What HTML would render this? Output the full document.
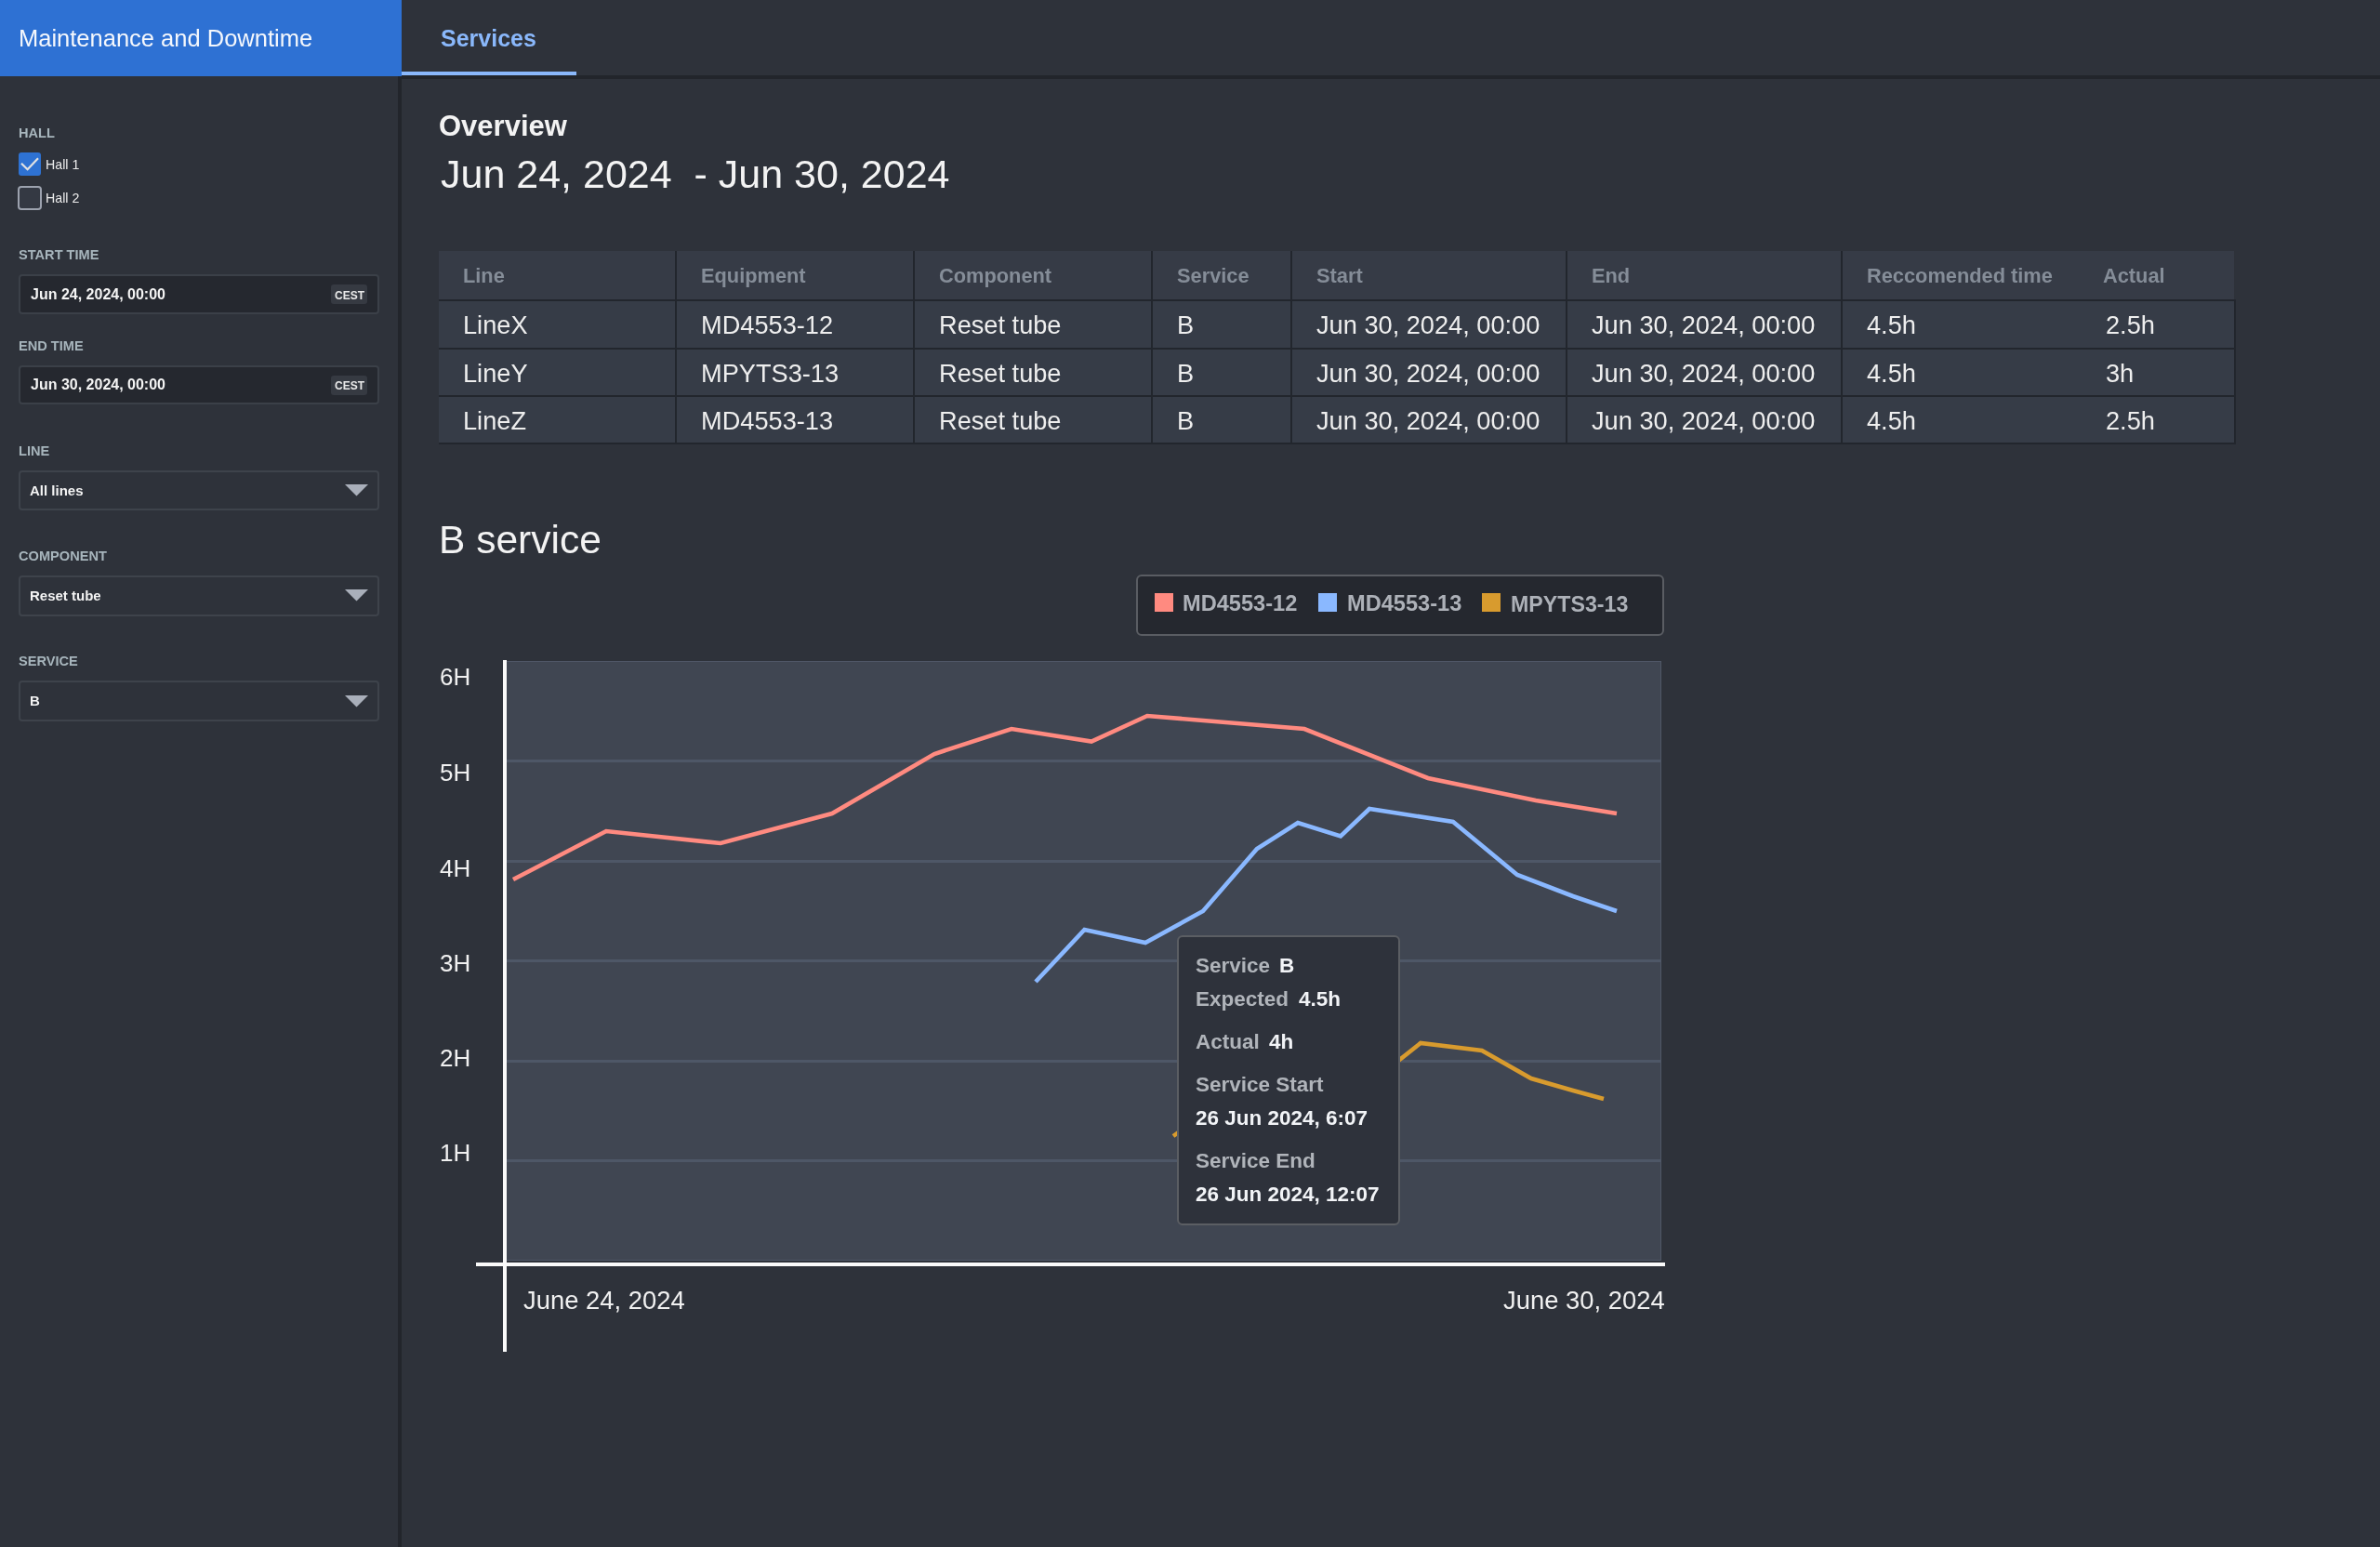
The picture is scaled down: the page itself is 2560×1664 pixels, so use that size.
<!DOCTYPE html>
<html><head><meta charset="utf-8"><title>Maintenance and Downtime</title>
<style>
html,body{margin:0;padding:0;}
body{width:2560px;height:1664px;background:#2e323a;position:relative;overflow:hidden;font-family:'Liberation Sans', sans-serif;}
.t{position:absolute;white-space:pre;line-height:1;will-change:transform;}
.b{position:absolute;}
</style></head><body>
<div class="b" style="left:0px;top:0px;width:432px;height:82px;background:#2e71d3"></div>
<div class="b" style="left:432px;top:81px;width:2128px;height:4px;background:#22252b"></div>
<div class="b" style="left:432px;top:77px;width:188px;height:4px;background:#8ab8fb"></div>
<div class="b" style="left:428px;top:82px;width:4px;height:1582px;background:#22252b"></div>
<div class="t" style="left:20.2px;top:28.8px;font-size:25.5px;font-weight:400;color:#f4f7fc;">Maintenance and Downtime</div>
<div class="t" style="left:474px;top:29.2px;font-size:25px;font-weight:700;color:#8ab8fb;">Services</div>
<div class="t" style="left:20px;top:136.0px;font-size:14.6px;font-weight:700;color:#a7b5bc;">HALL</div>
<div class="b" style="left:20px;top:164px;width:24px;height:25px;background:#2e72d3;border-radius:3px"></div>
<svg class="b" style="left:20px;top:164px" width="24" height="25"><path d="M3 11.7 L9.6 18.2 L21 6.3" fill="none" stroke="#e2e2e2" stroke-width="2.2"/></svg>
<div class="t" style="left:49.3px;top:169.7px;font-size:14.2px;font-weight:400;color:#ececec;">Hall 1</div>
<div class="b" style="left:19px;top:200px;width:26px;height:26px;background:#343943;border:2px solid #9ca2ae;border-radius:4px;box-sizing:border-box"></div>
<div class="t" style="left:49.3px;top:206.2px;font-size:14.2px;font-weight:400;color:#ececec;">Hall 2</div>
<div class="t" style="left:20px;top:267.2px;font-size:14.6px;font-weight:700;color:#a7b5bc;">START TIME</div>
<div class="b" style="left:20px;top:295px;width:388px;height:43px;background:#25282f;border:2px solid #3b4048;border-radius:4px;box-sizing:border-box"></div>
<div class="t" style="left:32.5px;top:308.6px;font-size:16px;font-weight:700;color:#f4f4f4;">Jun 24, 2024, 00:00</div>
<div class="b" style="left:356px;top:306px;width:39px;height:21px;background:#363a42;border-radius:3px"></div>
<div class="t" style="left:375.5px;transform:translateX(-50%);top:312.0px;font-size:12px;font-weight:700;color:#e8e8e8;">CEST</div>
<div class="t" style="left:20px;top:364.9px;font-size:14.6px;font-weight:700;color:#a7b5bc;">END TIME</div>
<div class="b" style="left:20px;top:393px;width:388px;height:42px;background:#25282f;border:2px solid #3b4048;border-radius:4px;box-sizing:border-box"></div>
<div class="t" style="left:32.5px;top:405.8px;font-size:16px;font-weight:700;color:#f4f4f4;">Jun 30, 2024, 00:00</div>
<div class="b" style="left:356px;top:404px;width:39px;height:21px;background:#363a42;border-radius:3px"></div>
<div class="t" style="left:375.5px;transform:translateX(-50%);top:409.2px;font-size:12px;font-weight:700;color:#e8e8e8;">CEST</div>
<div class="t" style="left:20px;top:477.9px;font-size:14.6px;font-weight:700;color:#a7b5bc;">LINE</div>
<div class="b" style="left:20px;top:505.5px;width:388px;height:43.5px;border:2px solid #3e434b;border-radius:4px;box-sizing:border-box"></div>
<div class="t" style="left:32px;top:519.8px;font-size:15px;font-weight:700;color:#f4f4f4;">All lines</div>
<svg class="b" style="left:371px;top:521.0px" width="25" height="13"><path d="M0 0 L25 0 L12.5 12.5 Z" fill="#a9afba"/></svg>
<div class="t" style="left:20px;top:591.1px;font-size:14.6px;font-weight:700;color:#a7b5bc;">COMPONENT</div>
<div class="b" style="left:20px;top:618.5px;width:388px;height:44.5px;border:2px solid #3e434b;border-radius:4px;box-sizing:border-box"></div>
<div class="t" style="left:32px;top:633.0px;font-size:15px;font-weight:700;color:#f4f4f4;">Reset tube</div>
<svg class="b" style="left:371px;top:634.2px" width="25" height="13"><path d="M0 0 L25 0 L12.5 12.5 Z" fill="#a9afba"/></svg>
<div class="t" style="left:20px;top:704.3px;font-size:14.6px;font-weight:700;color:#a7b5bc;">SERVICE</div>
<div class="b" style="left:20px;top:731.5px;width:388px;height:44.5px;border:2px solid #3e434b;border-radius:4px;box-sizing:border-box"></div>
<div class="t" style="left:32px;top:746.2px;font-size:15px;font-weight:700;color:#f4f4f4;">B</div>
<svg class="b" style="left:371px;top:747.5px" width="25" height="13"><path d="M0 0 L25 0 L12.5 12.5 Z" fill="#a9afba"/></svg>
<div class="t" style="left:472px;top:120.1px;font-size:31px;font-weight:700;color:#f3f3f3;">Overview</div>
<div class="t" style="left:474px;top:165.9px;font-size:43px;font-weight:400;color:#f3f3f3;">Jun 24, 2024  - Jun 30, 2024</div>
<div class="b" style="left:472px;top:270px;width:1931px;height:52px;background:#363b46"></div>
<div class="b" style="left:472px;top:322px;width:1933px;height:156px;background:#22262d"></div>
<div class="b" style="left:472px;top:324px;width:1931px;height:49.5px;background:#363c47"></div>
<div class="b" style="left:472px;top:375.5px;width:1931px;height:49.19999999999999px;background:#363c47"></div>
<div class="b" style="left:472px;top:426.7px;width:1931px;height:49.30000000000001px;background:#363c47"></div>
<div class="b" style="left:726px;top:270px;width:2px;height:208px;background:#22262d"></div>
<div class="b" style="left:982px;top:270px;width:2px;height:208px;background:#22262d"></div>
<div class="b" style="left:1238px;top:270px;width:2px;height:208px;background:#22262d"></div>
<div class="b" style="left:1388px;top:270px;width:2px;height:208px;background:#22262d"></div>
<div class="b" style="left:1684px;top:270px;width:2px;height:208px;background:#22262d"></div>
<div class="b" style="left:1980px;top:270px;width:2px;height:208px;background:#22262d"></div>
<div class="t" style="left:498px;top:285.8px;font-size:21.8px;font-weight:700;color:#858d98;">Line</div>
<div class="t" style="left:754px;top:285.8px;font-size:21.8px;font-weight:700;color:#858d98;">Equipment</div>
<div class="t" style="left:1010px;top:285.8px;font-size:21.8px;font-weight:700;color:#858d98;">Component</div>
<div class="t" style="left:1266px;top:285.8px;font-size:21.8px;font-weight:700;color:#858d98;">Service</div>
<div class="t" style="left:1416px;top:285.8px;font-size:21.8px;font-weight:700;color:#858d98;">Start</div>
<div class="t" style="left:1712px;top:285.8px;font-size:21.8px;font-weight:700;color:#858d98;">End</div>
<div class="t" style="left:2008px;top:285.8px;font-size:21.8px;font-weight:700;color:#858d98;">Reccomended time</div>
<div class="t" style="left:2261.5px;top:285.8px;font-size:21.8px;font-weight:700;color:#858d98;">Actual</div>
<div class="t" style="left:498px;top:336.3px;font-size:27.2px;font-weight:400;color:#eeeeee;">LineX</div>
<div class="t" style="left:754px;top:336.3px;font-size:27.2px;font-weight:400;color:#eeeeee;">MD4553-12</div>
<div class="t" style="left:1010px;top:336.3px;font-size:27.2px;font-weight:400;color:#eeeeee;">Reset tube</div>
<div class="t" style="left:1266px;top:336.3px;font-size:27.2px;font-weight:400;color:#eeeeee;">B</div>
<div class="t" style="left:1416px;top:336.3px;font-size:27.2px;font-weight:400;color:#eeeeee;">Jun 30, 2024, 00:00</div>
<div class="t" style="left:1712px;top:336.3px;font-size:27.2px;font-weight:400;color:#eeeeee;">Jun 30, 2024, 00:00</div>
<div class="t" style="left:2008px;top:336.3px;font-size:27.2px;font-weight:400;color:#eeeeee;">4.5h</div>
<div class="t" style="left:2264.5px;top:336.3px;font-size:27.2px;font-weight:400;color:#eeeeee;">2.5h</div>
<div class="t" style="left:498px;top:387.5px;font-size:27.2px;font-weight:400;color:#eeeeee;">LineY</div>
<div class="t" style="left:754px;top:387.5px;font-size:27.2px;font-weight:400;color:#eeeeee;">MPYTS3-13</div>
<div class="t" style="left:1010px;top:387.5px;font-size:27.2px;font-weight:400;color:#eeeeee;">Reset tube</div>
<div class="t" style="left:1266px;top:387.5px;font-size:27.2px;font-weight:400;color:#eeeeee;">B</div>
<div class="t" style="left:1416px;top:387.5px;font-size:27.2px;font-weight:400;color:#eeeeee;">Jun 30, 2024, 00:00</div>
<div class="t" style="left:1712px;top:387.5px;font-size:27.2px;font-weight:400;color:#eeeeee;">Jun 30, 2024, 00:00</div>
<div class="t" style="left:2008px;top:387.5px;font-size:27.2px;font-weight:400;color:#eeeeee;">4.5h</div>
<div class="t" style="left:2264.5px;top:387.5px;font-size:27.2px;font-weight:400;color:#eeeeee;">3h</div>
<div class="t" style="left:498px;top:438.9px;font-size:27.2px;font-weight:400;color:#eeeeee;">LineZ</div>
<div class="t" style="left:754px;top:438.9px;font-size:27.2px;font-weight:400;color:#eeeeee;">MD4553-13</div>
<div class="t" style="left:1010px;top:438.9px;font-size:27.2px;font-weight:400;color:#eeeeee;">Reset tube</div>
<div class="t" style="left:1266px;top:438.9px;font-size:27.2px;font-weight:400;color:#eeeeee;">B</div>
<div class="t" style="left:1416px;top:438.9px;font-size:27.2px;font-weight:400;color:#eeeeee;">Jun 30, 2024, 00:00</div>
<div class="t" style="left:1712px;top:438.9px;font-size:27.2px;font-weight:400;color:#eeeeee;">Jun 30, 2024, 00:00</div>
<div class="t" style="left:2008px;top:438.9px;font-size:27.2px;font-weight:400;color:#eeeeee;">4.5h</div>
<div class="t" style="left:2264.5px;top:438.9px;font-size:27.2px;font-weight:400;color:#eeeeee;">2.5h</div>
<div class="t" style="left:471.5px;top:560.4px;font-size:42.5px;font-weight:400;color:#f3f3f3;">B service</div>
<div class="b" style="left:1222px;top:617.5px;width:568px;height:66.0px;background:#25282f;border:2px solid #5a5d63;border-radius:6px;box-sizing:border-box"></div>
<div class="b" style="left:1242px;top:638px;width:20px;height:20px;background:#ff8a80"></div>
<div class="t" style="left:1272px;top:638.3px;font-size:23.6px;font-weight:700;color:#adb1b8;">MD4553-12</div>
<div class="b" style="left:1418px;top:638px;width:20px;height:20px;background:#8ab8ff"></div>
<div class="t" style="left:1448.5px;top:638.3px;font-size:23.6px;font-weight:700;color:#adb1b8;">MD4553-13</div>
<div class="b" style="left:1594px;top:638px;width:20px;height:20px;background:#d89b2e"></div>
<div class="t" style="left:1624.5px;top:638.7px;font-size:23.2px;font-weight:700;color:#adb1b8;">MPYTS3-13</div>
<div class="b" style="left:544px;top:711px;width:1243px;height:645px;background:#404652;border:1.5px solid #4f5767;box-sizing:border-box"></div>
<div class="b" style="left:544px;top:817.0px;width:1242px;height:3.0px;background:#4e5767"></div>
<div class="b" style="left:544px;top:924.5px;width:1242px;height:3.0px;background:#4e5767"></div>
<div class="b" style="left:544px;top:1032.0px;width:1242px;height:3.0px;background:#4e5767"></div>
<div class="b" style="left:544px;top:1139.5px;width:1242px;height:3.0px;background:#4e5767"></div>
<div class="b" style="left:544px;top:1247.0px;width:1242px;height:3.0px;background:#4e5767"></div>
<div class="b" style="left:541px;top:710px;width:3.5px;height:743.5px;background:#fafafa"></div>
<div class="b" style="left:512px;top:1358px;width:1279px;height:3.5px;background:#fafafa"></div>
<div class="t" style="right:2054px;top:715.3px;font-size:26px;font-weight:400;color:#f0f0f0;">6H</div>
<div class="t" style="right:2054px;top:817.6px;font-size:26px;font-weight:400;color:#f0f0f0;">5H</div>
<div class="t" style="right:2054px;top:920.5px;font-size:26px;font-weight:400;color:#f0f0f0;">4H</div>
<div class="t" style="right:2054px;top:1022.9px;font-size:26px;font-weight:400;color:#f0f0f0;">3H</div>
<div class="t" style="right:2054px;top:1124.9px;font-size:26px;font-weight:400;color:#f0f0f0;">2H</div>
<div class="t" style="right:2054px;top:1227.4px;font-size:26px;font-weight:400;color:#f0f0f0;">1H</div>
<div class="t" style="left:562.5px;top:1384.9px;font-size:27.4px;font-weight:400;color:#f0f0f0;">June 24, 2024</div>
<div class="t" style="right:769.5px;top:1384.8px;font-size:27.4px;font-weight:400;color:#f0f0f0;">June 30, 2024</div>
<svg class="b" style="left:0;top:0" width="2560" height="1664">
<polyline points="552,946 652,894 775,907 895,875 1005,811 1088,784 1174,797.5 1234,770 1403,784 1536,837 1652,861 1739,875" fill="none" stroke="#ff8a80" stroke-width="4.6" stroke-linejoin="miter"/>
<polyline points="1114,1056 1166.5,1000 1232,1014 1294,980 1352,913 1396,885 1442,899.5 1473,870 1563,884 1632,941 1692,964 1739,980" fill="none" stroke="#8ab8ff" stroke-width="4.6"/>
<polyline points="1262,1222 1300,1195 1480,1160 1528,1122 1594,1130 1647,1160 1692,1173 1725,1182" fill="none" stroke="#d89b2e" stroke-width="4.6"/>
</svg>
<div class="b" style="left:1266px;top:1005.5px;width:239.5px;height:312.0px;background:#2e323b;border:2px solid #5b5e63;border-radius:6px;box-sizing:border-box"></div>
<div class="t" style="left:1286.3px;top:1027.9px;font-size:22.5px;font-weight:700;color:#b0b4ba;">Service</div>
<div class="t" style="left:1376px;top:1027.9px;font-size:22.5px;font-weight:700;color:#f2f4f7;">B</div>
<div class="t" style="left:1286.3px;top:1064.2px;font-size:22.5px;font-weight:700;color:#b0b4ba;">Expected</div>
<div class="t" style="left:1397px;top:1064.2px;font-size:22.5px;font-weight:700;color:#f2f4f7;">4.5h</div>
<div class="t" style="left:1286.3px;top:1109.9px;font-size:22.5px;font-weight:700;color:#b0b4ba;">Actual</div>
<div class="t" style="left:1365px;top:1109.9px;font-size:22.5px;font-weight:700;color:#f2f4f7;">4h</div>
<div class="t" style="left:1286.3px;top:1155.9px;font-size:22.5px;font-weight:700;color:#b0b4ba;">Service Start</div>
<div class="t" style="left:1286.3px;top:1191.7px;font-size:22.5px;font-weight:700;color:#f2f4f7;">26 Jun 2024, 6:07</div>
<div class="t" style="left:1286.3px;top:1237.9px;font-size:22.5px;font-weight:700;color:#b0b4ba;">Service End</div>
<div class="t" style="left:1286.3px;top:1274.4px;font-size:22.5px;font-weight:700;color:#f2f4f7;">26 Jun 2024, 12:07</div>
</body></html>
